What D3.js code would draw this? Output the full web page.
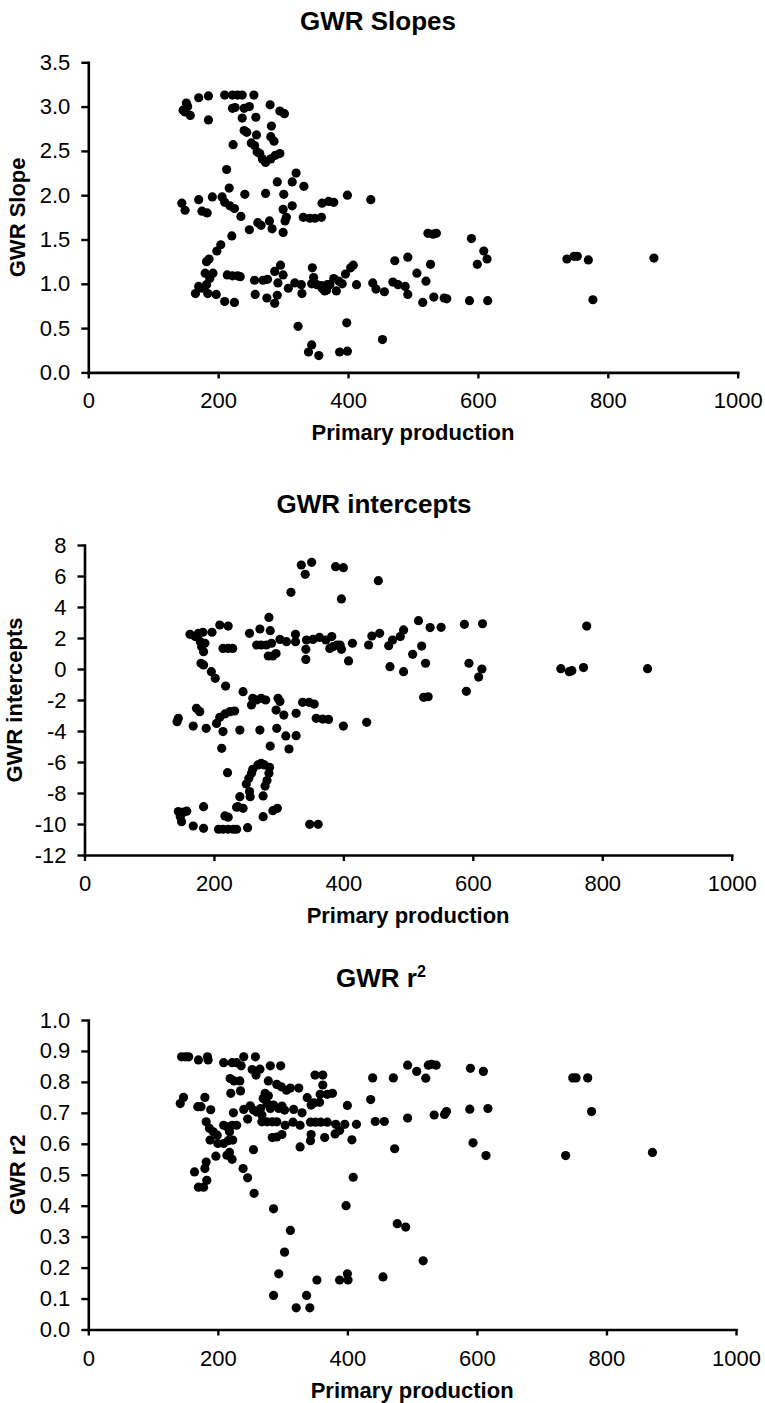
<!DOCTYPE html>
<html>
<head>
<meta charset="utf-8">
<script src="https://cdn.jsdelivr.net/npm/d3@7"></script>
<style>
  html, body { margin: 0; padding: 0; background: #fff; }
  svg { display: block; }
  text { font-family: "Liberation Sans", Arial, sans-serif; fill: #000; }
</style>
</head>
<body>
<svg id="chart" width="765" height="1403"></svg>
<script>
// ---------- data (x = primary production, y = value) ----------
const xTicks = [0, 200, 400, 600, 800, 1000];

const slopeTicks = [0, 0.5, 1.0, 1.5, 2.0, 2.5, 3.0, 3.5];
const slopePoints = [
  [151,3.04],[153,3.0],[146,2.96],[149,2.94],[157,2.9],
  [170,3.10],[185,3.12],[185,2.85],[210,3.13],[222,3.13],[230,3.13],[237,3.13],[255,3.13],
  [222,2.98],[226,2.99],[240,2.98],[248,3.0],[237,2.87],[258,2.88],[280,3.02],[295,2.95],[302,2.92],
  [282,2.78],[240,2.73],[244,2.71],[259,2.68],[281,2.66],[286,2.61],[223,2.57],[251,2.59],[256,2.56],
  [260,2.49],[264,2.47],[268,2.41],[273,2.37],[281,2.41],[288,2.45],[295,2.47],
  [213,2.29],[320,2.25],[291,2.15],[314,2.15],[332,2.10],[217,2.08],
  [144,1.91],[149,1.83],[170,1.95],[191,1.98],[175,1.82],[183,1.80],
  [206,1.98],[210,1.92],[218,1.88],[225,1.85],[235,1.76],[241,2.01],[273,2.02],[301,2.01],
  [314,1.88],[300,1.84],[305,1.75],[303,1.71],
  [261,1.69],[266,1.66],[279,1.71],[283,1.62],[300,1.58],[248,1.61],
  [331,1.75],[341,1.74],[349,1.74],[359,1.75],[360,1.91],[370,1.93],[378,1.92],
  [399,2.0],[435,1.95],
  [221,1.54],[198,1.37],[204,1.44],[182,1.25],[186,1.28],[180,1.12],[192,1.12],[187,1.06],[182,0.99],
  [170,0.97],[165,0.89],[175,0.95],[184,0.89],[197,0.88],
  [214,1.10],[222,1.09],[230,1.09],[234,1.08],[210,0.80],[225,0.79],
  [256,1.04],[269,1.04],[276,1.05],[287,1.14],[296,1.21],[300,1.10],[292,1.01],
  [291,0.87],[287,0.78],[275,0.84],[257,0.88],[308,0.95],[318,1.01],[328,0.99],[329,0.89],
  [345,1.18],[347,1.07],[344,1.00],[352,0.99],[359,0.98],[367,0.93],[372,0.99],
  [323,0.52],[344,0.31],[339,0.23],[355,0.19],
  [523,1.57],[531,1.56],[536,1.57],[590,1.51],[609,1.37],[614,1.28],[599,1.22],
  [737,1.28],[748,1.31],[753,1.31],[770,1.27],[871,1.29],[777,0.82],[587,0.81],[615,0.81],
  [472,1.26],[492,1.30],[527,1.22],[506,1.12],[520,1.03],[515,0.79],[532,0.85],[548,0.84],[552,0.83],
  [469,1.02],[477,0.99],[488,0.97],[492,0.88],[438,1.01],[443,0.94],[456,0.91],[413,0.99],
  [404,1.18],[408,1.21],[396,1.11],[391,1.00],[386,1.03],[378,1.06],[382,0.92],[364,0.92],[360,0.95],[368,0.99],
  [398,0.56],[453,0.37],[387,0.23],[399,0.24]
];

const interceptTicks = [-12, -10, -8, -6, -4, -2, 0, 2, 4, 6, 8];
const interceptPoints = [
  [335,6.71],[351,6.88],[341,6.11],[319,4.95],[285,3.33],[209,2.84],[222,2.77],
  [163,2.24],[171,2.09],[176,2.30],[183,2.37],[197,2.37],[179,1.76],[186,1.66],[184,1.12],[181,1.44],
  [180,0.37],[184,0.26],[196,-0.17],[202,-0.6],[218,-1.1],
  [214,1.33],[222,1.33],[229,1.33],[255,2.30],[271,2.58],[287,2.47],
  [266,1.55],[273,1.55],[281,1.55],[289,1.66],[284,0.84],[291,0.84],[296,1.0],
  [302,1.91],[312,1.76],[326,2.24],[326,1.76],[343,1.87],[353,1.91],[363,2.04],[373,1.87],
  [342,1.27],[342,0.62],
  [245,-1.46],[260,-1.89],[266,-2.0],[273,-1.89],[280,-2.0],[299,-1.89],[302,-2.1],[296,-2.65],
  [308,-2.97],[327,-2.86],[337,-2.15],[347,-2.15],[355,-2.26],[358,-3.18],[368,-3.23],[377,-3.25],
  [258,-2.32],[173,-2.54],[178,-2.75],[143,-3.40],[145,-3.18],[168,-3.68],[188,-3.83],
  [204,-3.51],[209,-3.12],[217,-2.90],[225,-2.75],[232,-2.71],
  [214,-4.04],[240,-3.94],[271,-3.94],[297,-3.83],[311,-4.32],[327,-4.30],
  [212,-5.12],[287,-4.97],[316,-5.16],[221,-6.69],
  [273,-6.09],[268,-6.19],[278,-6.19],[286,-6.34],[260,-6.47],[258,-6.73],[254,-7.05],[250,-7.42],
  [285,-6.73],[282,-7.2],[279,-7.55],
  [255,-7.91],[256,-8.24],[240,-8.24],[237,-8.88],[245,-8.99],[235,-8.92],[276,-8.19],[276,-9.53],
  [291,-9.14],[298,-8.99],
  [184,-8.88],[145,-9.2],[148,-9.53],[153,-9.24],[150,-9.85],[158,-9.17],
  [168,-10.13],[184,-10.28],[207,-10.34],[214,-10.34],[222,-10.34],[230,-10.34],[235,-10.34],[252,-10.24],
  [217,-9.48],[222,-9.56],[348,-10.02],[361,-10.02],
  [388,6.60],[400,6.54],[454,5.70],[397,4.52],[516,3.12],[534,2.67],[551,2.69],[587,2.88],[615,2.92],[776,2.77],
  [382,2.09],[379,1.33],[384,1.44],[390,1.55],[395,1.55],[397,1.27],[408,0.52],[414,1.66],
  [439,1.55],[444,2.13],[456,2.30],[470,1.50],[476,1.87],[488,2.09],[493,2.52],
  [472,0.15],[493,-0.17],[507,0.95],[521,1.48],[527,0.37],[594,0.37],[614,0.0],[609,-0.52],
  [590,-1.44],[524,-1.83],[531,-1.79],
  [736,0.02],[749,-0.17],[753,-0.11],[771,0.09],[870,0.02],[400,-3.68],[436,-3.44]
];

const r2Ticks = [0, 0.1, 0.2, 0.3, 0.4, 0.5, 0.6, 0.7, 0.8, 0.9, 1.0];
const r2Points = [
  [144,0.881],[150,0.881],[155,0.881],[170,0.871],[184,0.881],[185,0.871],[209,0.862],[222,0.862],
  [229,0.862],[236,0.852],[240,0.881],[258,0.881],
  [281,0.852],[297,0.852],[253,0.840],[265,0.841],[259,0.822],
  [219,0.811],[225,0.803],[234,0.803],[278,0.803],[291,0.792],[298,0.784],[306,0.773],[312,0.78],[325,0.78],
  [350,0.822],[362,0.822],[362,0.79],[358,0.76],[369,0.76],[377,0.763],
  [147,0.75],[142,0.73],[180,0.75],[220,0.763],[235,0.771],[273,0.763],[278,0.755],[270,0.746],
  [169,0.72],[174,0.72],[189,0.71],[224,0.70],[240,0.711],[250,0.723],[246,0.68],
  [255,0.709],[260,0.703],[266,0.714],[268,0.693],[276,0.730],[281,0.714],[286,0.725],[294,0.714],
  [299,0.722],[303,0.709],[268,0.671],[276,0.671],[284,0.671],[291,0.671],
  [317,0.711],[330,0.70],[338,0.749],[344,0.725],[348,0.732],[357,0.734],
  [304,0.66],[316,0.67],[327,0.66],[343,0.67],[351,0.67],[359,0.67],[369,0.67],
  [182,0.671],[187,0.65],[193,0.639],[199,0.628],
  [209,0.66],[214,0.655],[222,0.66],[229,0.66],[218,0.639],
  [188,0.612],[200,0.601],[209,0.601],[216,0.61],[223,0.612],
  [284,0.62],[291,0.622],[299,0.63],[344,0.63],[343,0.61],[365,0.62],[327,0.59],[255,0.581],
  [197,0.56],[214,0.563],[222,0.55],[218,0.572],
  [182,0.541],[180,0.52],[183,0.482],[178,0.46],[170,0.46],[164,0.509],
  [239,0.52],[246,0.49],[256,0.44],[286,0.39],[312,0.32],[303,0.25],[294,0.18],[286,0.11],[337,0.11],[353,0.16],
  [321,0.07],[342,0.07],[388,0.16],[400,0.18],[401,0.16],[455,0.17],
  [493,0.854],[507,0.834],[521,0.812],[525,0.854],[530,0.857],[537,0.854],[590,0.844],[610,0.834],
  [748,0.813],[753,0.813],[771,0.813],[777,0.704],[737,0.562],[871,0.572],
  [589,0.712],[617,0.714],[594,0.603],[614,0.562],[534,0.693],[550,0.695],[553,0.704],[493,0.683],[473,0.584],
  [439,0.813],[471,0.813],[436,0.743],[443,0.672],[457,0.672],[400,0.724],[414,0.663],[407,0.613],
  [409,0.492],[398,0.40],
  [477,0.342],[490,0.331],[517,0.222],[382,0.663],[396,0.663],[388,0.643],[381,0.632]
];

// ---------- layout ----------
const FONT = '"Liberation Sans", Arial, sans-serif';
const panels = [
  { title: "GWR Slopes", sup: null, ylabel: "GWR Slope", points: slopePoints, yTicks: slopeTicks,
    fmt: d3.format(".1f"), left: 88.3, right: 737.7, top: 62.3, bottom: 372.4, titleX: 378, titleY: 30, ylabX: 25 },
  { title: "GWR intercepts", sup: null, ylabel: "GWR intercepts", points: interceptPoints, yTicks: interceptTicks,
    fmt: d => String(d).replace("\u2212", "-"), left: 84.5, right: 731.7, top: 545, bottom: 855, titleX: 374, titleY: 513, ylabX: 21.5 },
  { title: "GWR r", sup: "2", ylabel: "GWR r2", points: r2Points, yTicks: r2Ticks,
    fmt: d3.format(".1f"), left: 88.3, right: 736, top: 1020, bottom: 1329.5, titleX: 381, titleY: 987, ylabX: 25 }
];

const svg = d3.select("#chart");

panels.forEach(p => {
  const g = svg.append("g");
  const x = d3.scaleLinear().domain([0, 1000]).range([p.left, p.right]);
  const yExt = d3.extent(p.yTicks);
  const y = d3.scaleLinear().domain(yExt).range([p.bottom, p.top]);

  // title
  const t = g.append("text")
    .attr("x", p.titleX).attr("y", p.titleY)
    .attr("text-anchor", "middle")
    .style("font-family", FONT).style("font-weight", "bold").style("font-size", "26px")
    .text(p.title);
  if (p.sup) {
    t.append("tspan").attr("dy", -10).style("font-size", "16px").text(p.sup);
  }

  // points
  g.append("g").selectAll("circle").data(p.points).join("circle")
    .attr("cx", d => x(d[0])).attr("cy", d => y(d[1]))
    .attr("r", 4.6).attr("fill", "#000");

  // y axis
  const ya = g.append("g").attr("transform", `translate(${p.left},0)`)
    .call(d3.axisLeft(y).tickValues(p.yTicks).tickFormat(p.fmt).tickSize(7).tickSizeOuter(0).tickPadding(11));
  // x axis
  const xa = g.append("g").attr("transform", `translate(0,${p.bottom})`)
    .call(d3.axisBottom(x).tickValues(xTicks).tickFormat(d3.format("d")).tickSize(6).tickSizeOuter(0));

  [ya, xa].forEach(a => {
    a.select(".domain").attr("stroke", "#000").attr("stroke-width", 2.6).attr("stroke-linecap", "square");
    a.selectAll(".tick line").attr("stroke", "#000").attr("stroke-width", 2.4);
    a.selectAll("text").style("font-family", FONT).style("font-size", "22px").attr("fill", "#000");
  });
  xa.selectAll("text").attr("y", 36).attr("dy", 0);

  // x axis title
  g.append("text")
    .attr("x", (p.left + p.right) / 2).attr("y", p.bottom + 68)
    .attr("text-anchor", "middle")
    .style("font-family", FONT).style("font-weight", "bold").style("font-size", "22px")
    .text("Primary production");

  // y axis title
  g.append("text")
    .attr("transform", `translate(${p.ylabX},${(p.top + p.bottom) / 2}) rotate(-90)`)
    .attr("text-anchor", "middle")
    .style("font-family", FONT).style("font-weight", "bold").style("font-size", "22px")
    .text(p.ylabel);
});
</script>
</body>
</html>
